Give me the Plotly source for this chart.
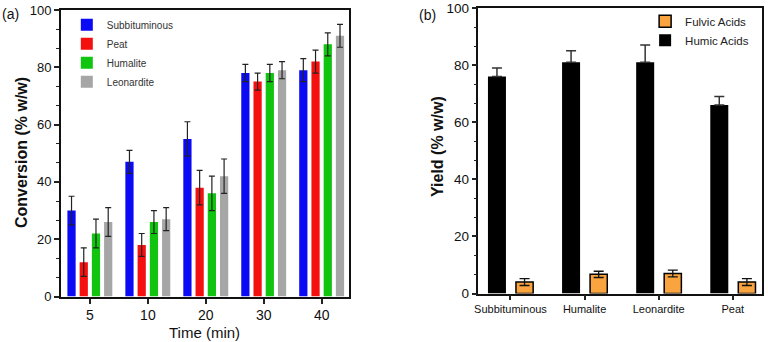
import plotly.graph_objects as go

# panel (a): conversion vs time
times = ["5", "10", "20", "30", "40"]
subbituminous = [30, 47, 55, 78, 79]
peat = [12, 18, 38, 75, 82]
humalite = [22, 26, 36, 78, 88]
leonardite = [26, 27, 42, 79, 91]
err_5_to_40 = [5, 4, 6, 3, 4]

# panel (b): yields by coal
coals = ["Subbituminous", "Humalite", "Leonardite", "Peat"]
humic = [76, 81, 81, 66]
humic_err = [3, 4, 6, 3]
fulvic = [4, 6.7, 7, 4]
fulvic_err = [1.2, 1.1, 1.2, 1.2]

FONT = "Arial, Liberation Sans, sans-serif"

fig = go.Figure()

series_a = [("Subbituminous", subbituminous, "#0a0af5"),
            ("Peat", peat, "#f51010"),
            ("Humalite", humalite, "#10c410"),
            ("Leonardite", leonardite, "#a6a6a6")]
offsets_a = [-0.389, -0.178, 0.033, 0.244]

for (name, vals, col), off in zip(series_a, offsets_a):
    fig.add_trace(go.Bar(
        x=times, y=vals, name=name, marker=dict(color=col, line=dict(width=0)),
        offset=off, width=0.142,
        error_y=dict(type="data", array=err_5_to_40, color="#222222", thickness=1.2, width=3),
        xaxis="x", yaxis="y", legend="legend"))

fig.add_trace(go.Bar(
    x=coals, y=fulvic, name="Fulvic Acids",
    marker=dict(color="#f9a43f", line=dict(color="black", width=1.5)),
    offset=0.074, width=0.232,
    error_y=dict(type="data", array=fulvic_err, color="#111111", thickness=1.3, width=5),
    xaxis="x2", yaxis="y2", legend="legend2"))
fig.add_trace(go.Bar(
    x=coals, y=humic, name="Humic Acids",
    marker=dict(color="black", line=dict(width=0)),
    offset=-0.304, width=0.243,
    error_y=dict(type="data", symmetric=False, array=humic_err, arrayminus=[0, 0, 0, 0],
                 color="#333333", thickness=1.5, width=5),
    xaxis="x2", yaxis="y2", legend="legend2"))

yax = dict(range=[0, 100], dtick=20, ticks="outside", ticklen=5, tickwidth=1.5,
           tickcolor="#222", showline=True, linecolor="#111", mirror=True,
           showgrid=False, zeroline=False, ticklabeloverflow="allow",
           minor=dict(dtick=20 / 3, ticks="outside", ticklen=3, tickwidth=1.2, tickcolor="#222"))

fig.update_layout(
    width=768, height=342,
    margin=dict(l=0, r=0, t=0, b=0, autoexpand=False),
    paper_bgcolor="white", plot_bgcolor="white",
    barmode="overlay",
    font=dict(family=FONT, color="#111"),
    xaxis=dict(domain=[0.0794, 0.4544], type="category", range=[-0.50, 4.47],
               ticks="outside", ticklen=5, tickwidth=1.5, tickcolor="#222",
               showline=True, linecolor="#111", linewidth=2, mirror=True,
               tickfont=dict(size=14), showgrid=False),
    yaxis=dict(domain=[0.133, 0.9708], linewidth=2, tickfont=dict(size=13), **yax),
    xaxis2=dict(domain=[0.623, 0.9922], type="category", range=[-0.432, 3.394],
                anchor="y2", ticks="outside", ticklen=5, tickwidth=1.5, tickcolor="#222",
                showline=True, linecolor="#111", linewidth=1.5, mirror=True,
                tickfont=dict(size=11), showgrid=False),
    yaxis2=dict(domain=[0.1418, 0.9766], anchor="x2", linewidth=1.5,
                tickfont=dict(size=13.5), **yax),
    legend=dict(x=0.087, y=0.97, xanchor="left", yanchor="top", bgcolor="rgba(0,0,0,0)",
                font=dict(size=10, color="#333"), tracegroupgap=0),
    legend2=dict(x=0.84, y=0.98, xanchor="left", yanchor="top", bgcolor="rgba(0,0,0,0)",
                 font=dict(size=11.5, color="#222"), traceorder="normal"),
)

annots = [
    dict(text="(a)", x=0 / 768, y=1 - 14 / 342, font=dict(size=14), xanchor="left"),
    dict(text="(b)", x=417 / 768, y=1 - 15 / 342, font=dict(size=14), xanchor="left"),
    dict(text="<b>Conversion (% w/w)</b>", x=21 / 768, y=1 - 153 / 342, font=dict(size=16),
         textangle=-90, xanchor="center"),
    dict(text="<b>Yield (% w/w)</b>", x=437 / 768, y=1 - 147 / 342, font=dict(size=16),
         textangle=-90, xanchor="center"),
    dict(text="Time (min)", x=204 / 768, y=1 - 332 / 342, font=dict(size=15), xanchor="center"),
]
for a in annots:
    fig.add_annotation(xref="paper", yref="paper", showarrow=False, yanchor="middle", **a)

fig.write_html("out.html", config={"displayModeBar": False},
               post_script="document.body.style.margin='0';")
